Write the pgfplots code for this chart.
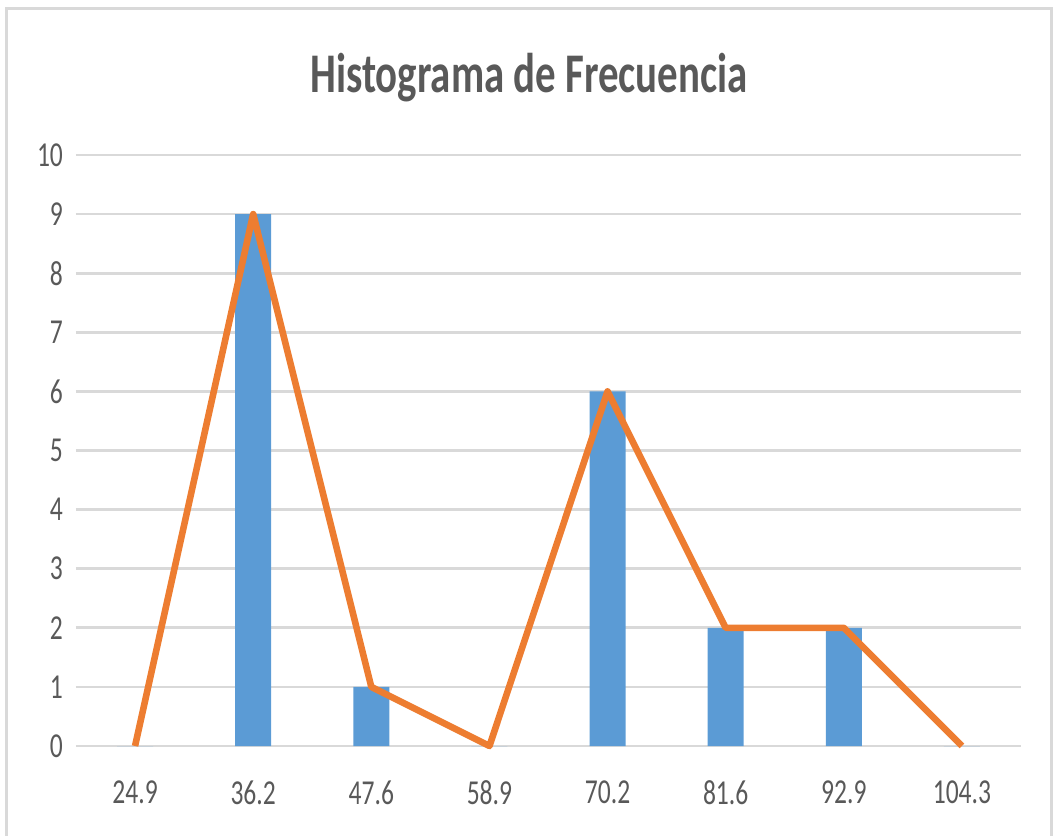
\documentclass[border=0pt]{standalone}
\usepackage{fontspec}
\setmainfont{Carlito}[FakeStretch=0.73]
\usepackage{pgfplots}
\pgfplotsset{compat=1.18}
\definecolor{barblue}{HTML}{5B9BD5}
\definecolor{lineorange}{HTML}{ED7D31}
\definecolor{gridgray}{HTML}{D9D9D9}
\definecolor{txtgray}{HTML}{595959}
\definecolor{framegray}{HTML}{D9D9D9}
\begin{document}
\begin{tikzpicture}
\useasboundingbox (-38pt,-44.5pt) rectangle (488.5pt,373pt);
\draw[framegray, line width=1.5pt] (-34.5pt,-60pt) rectangle (487.5pt,368.5pt);
\begin{axis}[
  at={(0pt,0pt)}, anchor=south west,
  scale only axis,
  width=472.5pt, height=295.5pt,
  xmin=-0.5, xmax=7.5, ymin=0, ymax=10,
  xtick={0,...,7},
  xticklabels={24.9,36.2,47.6,58.9,70.2,81.6,92.9,104.3},
  ytick={0,...,10},
  ymajorgrids,
  grid style={gridgray, line width=1.4pt},
  axis line style={draw=none},
  major tick length=0pt,
  tick label style={font=\fontsize{17.5}{20}\selectfont, text=txtgray},
  /pgf/number format/assume math mode=true,
  xticklabel style={yshift=-14pt},
  yticklabel style={xshift=-3pt},
  clip=false,
]
\addplot[ybar, bar width=18pt, fill=barblue, draw=none] coordinates {
  (0,0) (1,9) (2,1) (3,0) (4,6) (5,2) (6,2) (7,0)};
\addplot[lineorange, line width=3.3pt, line join=round, mark=none] coordinates {
  (0,0) (1,9) (2,1) (3,0) (4,6) (5,2) (6,2) (7,0)};
\end{axis}
\node[anchor=base, text=txtgray, font=\fontsize{28}{33}\bfseries\selectfont] at (226.5pt,326.5pt) {Histograma de Frecuencia};
\end{tikzpicture}
\end{document}
